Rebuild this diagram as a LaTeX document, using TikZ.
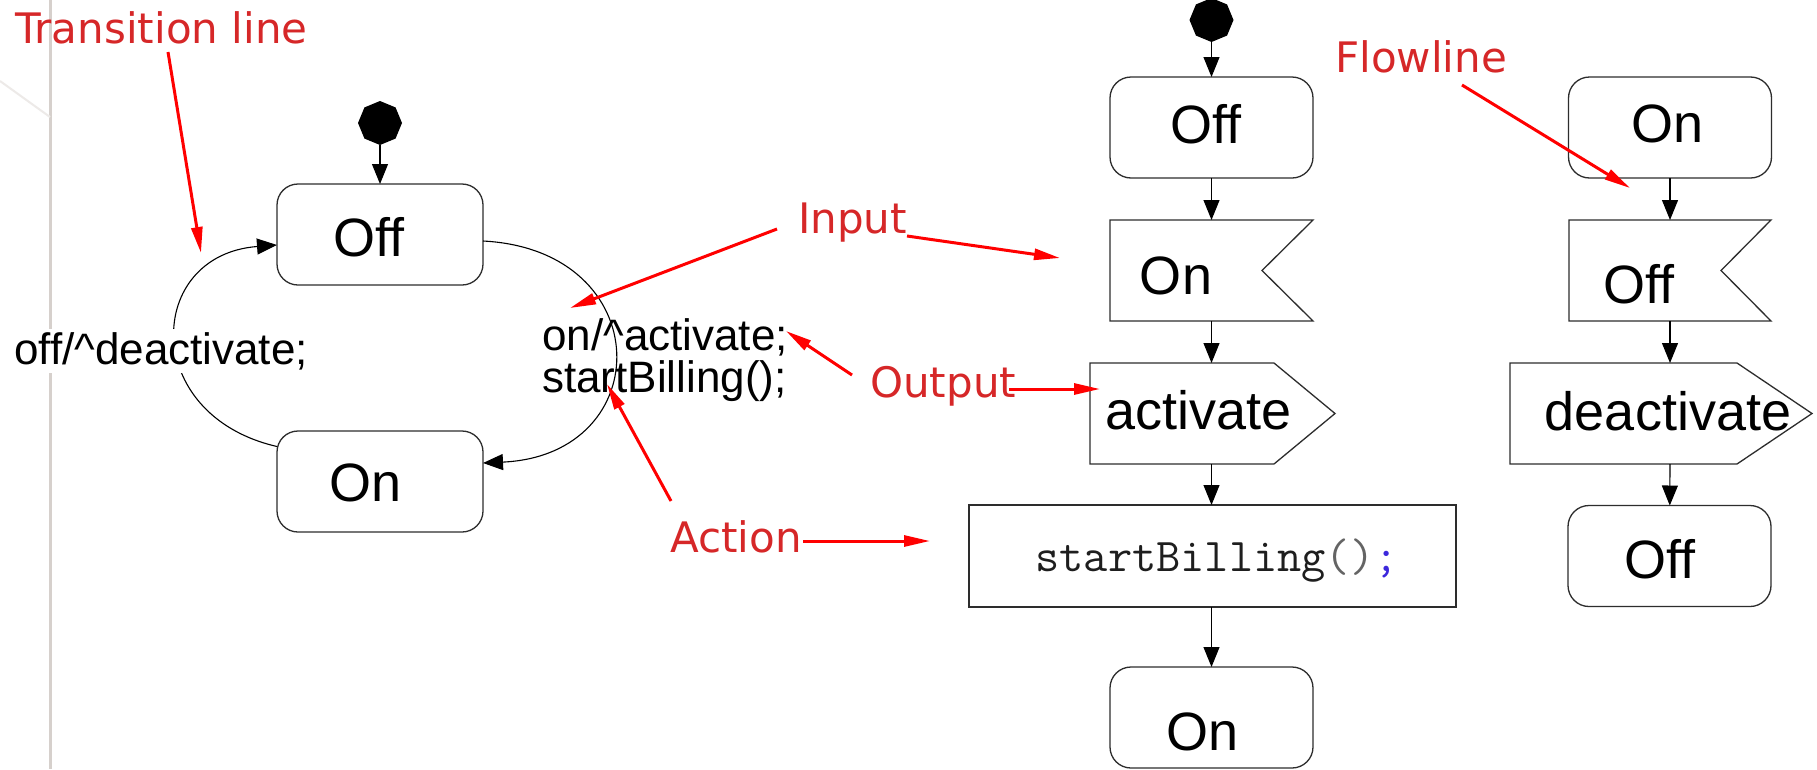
\documentclass[tikz,border=0pt]{standalone}
\usepackage{fontspec}
\setmainfont{Liberation Sans}[Ligatures=CommonOff]
\newfontfamily\notefont{DejaVu Sans}
\usetikzlibrary{arrows.meta,shapes.geometric,calc}

\definecolor{notered}{RGB}{214,39,40}
\definecolor{arrowred}{RGB}{255,0,0}
\definecolor{outline}{RGB}{45,45,45}
\definecolor{semiblue}{RGB}{60,40,220}
\definecolor{parengray}{RGB}{100,100,100}
\definecolor{codegray}{RGB}{30,30,30}
\definecolor{rulegray}{RGB}{214,208,204}

\begin{document}
\begin{tikzpicture}[x=1pt,y=-1pt,
  shapetext/.style={font=\fontsize{54}{60}\selectfont, inner sep=0pt},
  statebox/.style={draw=outline, line width=1.3pt, rounded corners=21pt,
    minimum width=203pt, minimum height=101pt, inner sep=0pt, outer sep=0pt},
  plainbox/.style={draw=outline, line width=1.3pt, inner sep=0pt, outer sep=0pt},
  shapeframe/.style={inner sep=0pt, outer sep=0pt, minimum height=101pt},
  edgeline/.style={draw=outline, line width=1.3pt},
  startdot/.style={regular polygon, regular polygon sides=8, shape border rotate=22.5,
    fill=black, minimum size=44pt, inner sep=0pt, outer sep=0pt},
  flow/.style={line width=1.1pt, -{Triangle[length=20pt,width=16pt]}},
  note/.style={text=notered, font=\notefont\fontsize{42}{48}\selectfont,
    inner sep=0pt, anchor=base west},
  callout/.style={draw=arrowred, line width=3pt, -{Triangle[length=26pt,width=11pt]}},
  translabel/.style={font=\fontsize{44}{42}\selectfont, inner sep=0pt},
  codetext/.style={inner sep=0pt, text=codegray, font=\ttfamily\fontsize{47}{52}\selectfont},
]
\useasboundingbox (0,0) rectangle (1817,769);
\fill[white] (0,0) rectangle (1817,769);

% page rule on the left margin
\draw[rulegray, line width=3pt] (50,0) -- (50,769);
\draw[rulegray!45, line width=2pt] (0,81) -- (50,117);

% ---------------- statechart ----------------
\node[startdot] (s1) at (380,123) {};
\node[statebox, minimum width=206pt,
  label={[shapetext,xshift=-11pt,yshift=-2.5pt]center:Off}] (off1) at (380,234.5) {};
\node[statebox, minimum width=206pt,
  label={[shapetext,xshift=-14pt,yshift=-1.5pt]center:On}] (on1) at (380,481.5) {};
\draw[flow] (s1) -- (off1);

% on -> off transition
\draw[flow] ($(on1.west)+(0,-35)$) .. controls (140,415) and (145,255) .. ($(off1.west)+(0,10.5)$);
\node[translabel, fill=white, inner sep=3pt] (lbl1) at (161,351) {off/\textasciicircum deactivate;};

% off -> on transition
\draw[flow] ($(off1.east)+(0,6.5)$) .. controls (658,250) and (658,455) .. ($(on1.east)+(0,-18.5)$);
\node[translabel, anchor=north west, align=left] (lbl2) at (542,318)
  {on/\textasciicircum activate;\\startBilling();};

% ---------------- flowchart: Off --On--> ----------------
\node[startdot] (s2) at (1211.5,20) {};
\node[statebox, label={[shapetext,xshift=-5.5pt,yshift=3.5pt]center:Off}] (off2) at (1211.5,127.5) {};
\node[shapeframe, minimum width=203pt,
  label={[shapetext,xshift=-35.5pt,yshift=-5.5pt]center:On}] (in2) at (1211.5,270.5) {};
\node[shapeframe, minimum width=245pt,
  label={[shapetext,xshift=-14pt,yshift=3pt]center:activate}] (out2) at (1212.5,413.5) {};
\node[plainbox, minimum width=487pt, minimum height=102pt,
  label={[codetext, xshift=4.5pt, yshift=-5pt]center:{startBilling\textcolor{parengray}{()}\textcolor{semiblue}{;}}}] (act2) at (1212.5,556) {};
\node[statebox, label={[shapetext,xshift=-9pt,yshift=-14.5pt]center:On}] (on2) at (1211.5,717.5) {};

\draw[edgeline] (in2.north west) -- (in2.north east) -- ([xshift=-51pt]in2.east)
  -- (in2.south east) -- (in2.south west) -- cycle;
\draw[edgeline] (out2.north west) -- ([xshift=-61pt]out2.north east) -- (out2.east)
  -- ([xshift=-61pt]out2.south east) -- (out2.south west) -- cycle;

\draw[flow] (s2) -- (s2 |- off2.north);
\draw[flow] (off2) -- (off2 |- in2.north);
\draw[flow] (in2) -- (in2 |- out2.north);
\draw[flow] (in2 |- out2.south) -- (in2 |- act2.north);
\draw[flow] (in2 |- act2.south) -- (on2);

% ---------------- flowchart: On --Off--> ----------------
\node[statebox, label={[shapetext,xshift=-3pt,yshift=3.5pt]center:On}] (on3) at (1670,127.5) {};
\node[shapeframe, minimum width=202pt,
  label={[shapetext,xshift=-31pt,yshift=-13.5pt]center:Off}] (in3) at (1670,270.5) {};
\node[shapeframe, minimum width=302pt,
  label={[shapetext,xshift=7pt,yshift=2pt]center:deactivate}] (out3) at (1661,413.5) {};
\node[statebox, label={[shapetext,xshift=-9.5pt,yshift=-3pt]center:Off}] (off3) at (1669.5,556) {};

\draw[edgeline] (in3.north west) -- (in3.north east) -- ([xshift=-50pt]in3.east)
  -- (in3.south east) -- (in3.south west) -- cycle;
\draw[edgeline] (out3.north west) -- ([xshift=-75pt]out3.north east) -- (out3.east)
  -- ([xshift=-75pt]out3.south east) -- (out3.south west) -- cycle;

\draw[flow] (on3) -- (on3 |- in3.north);
\draw[flow] (in3) -- (in3 |- out3.north);
\draw[flow] (in3 |- out3.south) -- (off3);

% ---------------- annotations ----------------
\node[note] (tnote) at (15,43) {Transition line};
\node[note] (inote) at (798,233) {Input};
\node[note] (onote) at (870,397) {Output};
\node[note] (anote) at (670,552) {Action};
\node[note] (fnote) at (1335,72) {Flowline};

\coordinate (t-from) at (168,52);   \coordinate (t-to) at (201,253);
\coordinate (i-from1) at (777,229); \coordinate (i-to1) at (570,308);
\coordinate (i-from2) at (907,236); \coordinate (i-to2) at (1060,258);
\coordinate (o-from1) at (852,375); \coordinate (o-to1) at (786,331);
\coordinate (o-from2) at (1009,389); \coordinate (o-to2) at (1100,389);
\coordinate (a-from1) at (671,501); \coordinate (a-to1) at (607,384);
\coordinate (a-from2) at (803,541); \coordinate (a-to2) at (930,541);
\coordinate (f-from) at (1462,85);  \coordinate (f-to) at (1630,188);

\draw[callout] (t-from) -- (t-to);
\draw[callout] (i-from1) -- (i-to1);
\draw[callout] (i-from2) -- (i-to2);
\draw[callout] (o-from1) -- (o-to1);
\draw[callout] (o-from2) -- (o-to2);
\draw[callout] (a-from1) -- (a-to1);
\draw[callout] (a-from2) -- (a-to2);
\draw[callout] (f-from) -- (f-to);
\end{tikzpicture}
\end{document}
